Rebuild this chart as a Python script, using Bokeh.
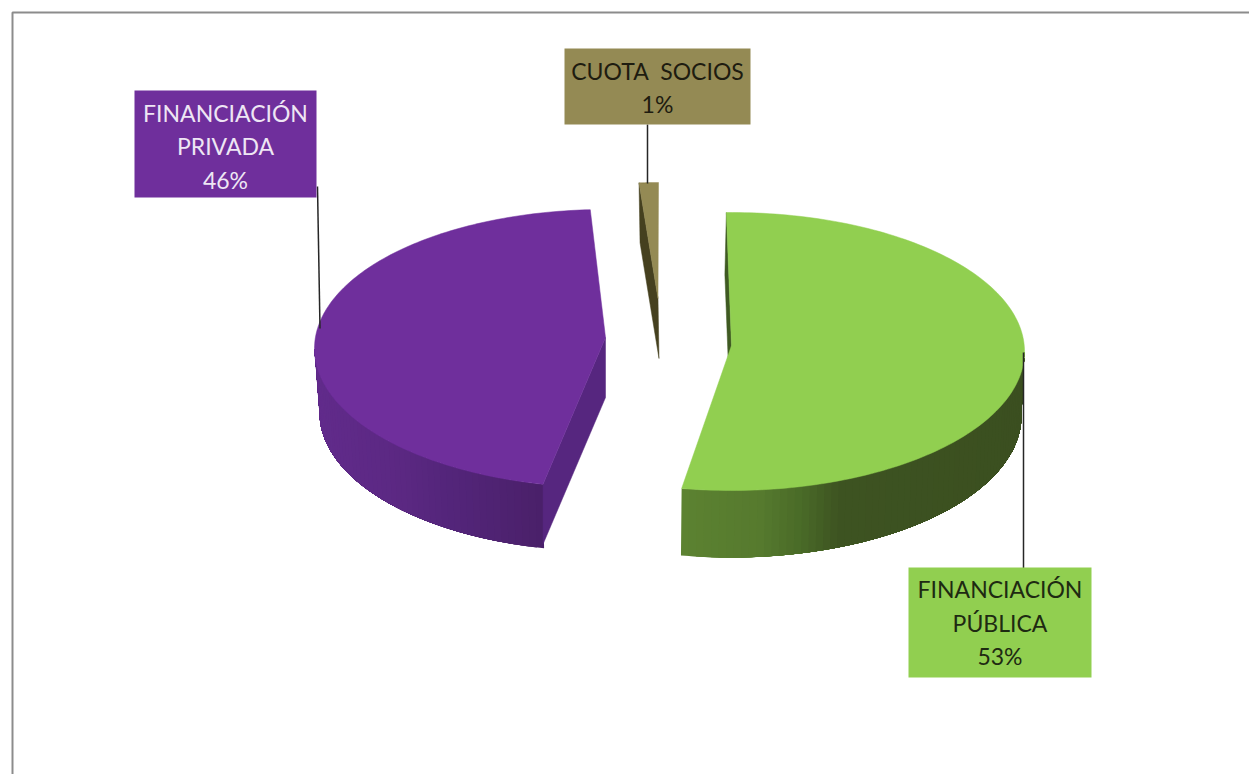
import numpy as np
from bokeh.core.properties import value
from bokeh.embed import file_html
from bokeh.models import ColumnDataSource
from bokeh.plotting import figure
from bokeh.resources import INLINE

# Funding shares, in percent
names = ["FINANCIACIÓN\nPÚBLICA", "FINANCIACIÓN\nPRIVADA", "CUOTA\u2002SOCIOS"]
shares = [53, 46, 1]

top_colors = ["#91cf50", "#6f2f9c", "#948a54"]
inner_colors = ["#3f5a22", "#56267f", "#45401f"]
text_colors = ["#1e2a12", "#eee6f4", "#1e1c10"]

# Exploded slice layout: apex, rim ellipse, base ellipse (page pixels, y down)
layouts = [
    dict(turn=-1.0, trim=0.0, apex=(731, 345), rim=(731, 351, 293, 139), base=(730, 415, 291, 142), drop=(-1.5, 62)),
    dict(turn=1.6, trim=-1.0, apex=(605, 337), rim=(605, 348, 291, 139), base=(605, 412, 286, 139), drop=(0, 60)),
    dict(turn=0.0, trim=0.0, apex=(657.5, 298), rim=(658, 322, 310, 140), base=(658, 382, 310, 140), drop=(1, 60)),
]
# Shading of the outer wall, as (page x, colour) stops
wall_stops = [
    [(682, "#5c8231"), (760, "#567a2e"), (800, "#4a6b28"), (840, "#3d5321"), (1024, "#3b4f20")],
    [(315, "#612b8b"), (400, "#5b2882"), (450, "#53257a"), (543, "#4a2069")],
    [(0, "#45401f"), (1249, "#45401f")],
]
# Label boxes (left, top, right, bottom), text offset and leader lines
boxes = [(908, 567, 1091, 677), (134, 90, 316, 197), (564, 48, 750, 124)]
text_shift = [0, 2, 1]
leaders = [((1023, 1023), (352, 568)), ((317, 319.5), (186, 328)), ((647, 647), (124, 183))]
LINE_STEP = 33.5


def rim_point(ellipse, deg):
    cx, cy, rx, ry = ellipse
    a = np.radians(deg)
    return cx + rx * np.sin(a), cy - ry * np.cos(a)


def blend(stops, x):
    xs = [s[0] for s in stops]
    rgb = [[int(s[1][i:i + 2], 16) for s in stops] for i in (1, 3, 5)]
    return "#%02x%02x%02x" % tuple(int(round(np.interp(x, xs, c))) for c in rgb)


p = figure(width=1249, height=774, x_range=(0, 1249), y_range=(774, 0),
           output_backend="svg", toolbar_location=None, min_border=0)
p.axis.visible = False
p.grid.visible = False
p.outline_line_color = None
p.background_fill_color = "#ffffff"

# Frame around the drawing area
p.line([12, 12, 1249], [774, 12, 12], line_color="#8c8c8c", line_width=2)

edges = np.concatenate([[0], np.cumsum(shares)]) / sum(shares) * 360

for i, share in enumerate(shares):
    lay = layouts[i]
    start, end = edges[i] + lay["turn"], edges[i + 1] + lay["turn"] + lay["trim"]
    dx, dy = lay["drop"]

    # Outer wall: only the part that faces the viewer. Bands overlap and are
    # painted longest first, so that no seams show between them.
    lo, hi = max(start, 90), min(end, 270)
    if hi > lo:
        cuts = np.linspace(lo, hi, int((hi - lo) / 1.5) + 2)
        step = cuts[1] - cuts[0]
        xs, ys, cols = [], [], []
        # The right half of the pie shrinks towards its low angle, the left
        # half towards its high angle.
        for c in (cuts[1:][::-1] if hi <= 180 or lo < 180 else cuts[:-1]):
            arc = np.linspace(lo, c, 60) if lo < 180 else np.linspace(c, hi, 60)
            tx, ty = rim_point(lay["rim"], arc)
            bx, by = rim_point(lay["base"], arc[::-1])
            xs.append(list(tx) + list(bx))
            ys.append(list(ty) + list(by))
            mx, _ = rim_point(lay["rim"], c - step / 2 if lo < 180 else c + step / 2)
            cols.append(blend(wall_stops[i], mx))
        p.patches(xs, ys, fill_color=cols, line_color=None)

    # Inner cut face visible through the gap
    ex, ey = rim_point(lay["rim"], start)
    ax, ay = lay["apex"]
    p.patch([ex, ex + dx, ax + dx, ax], [ey, ey + dy, ay + dy, ay],
            fill_color=inner_colors[i], line_color=inner_colors[i], line_width=0.5)

    # Top surface
    arc = np.linspace(start, end, 160)
    rx_pts, ry_pts = rim_point(lay["rim"], arc)
    p.patch([ax, *rx_pts], [ay, *ry_pts], fill_color=top_colors[i],
            line_color=top_colors[i], line_width=0.5)

for (lx, ly) in leaders:
    p.line(list(lx), list(ly), line_color="#262626", line_width=1.5)

p.quad(left=[b[0] for b in boxes], top=[b[1] for b in boxes],
       right=[b[2] for b in boxes], bottom=[b[3] for b in boxes],
       fill_color=top_colors, line_color=None)

# Labels: category name lines followed by the share
tx, ty, tt, tc = [], [], [], []
for name, share, box, col, shift in zip(names, shares, boxes, text_colors, text_shift):
    lines = name.split("\n") + [f"{share}%"]
    mid_x = (box[0] + box[2]) / 2
    mid_y = (box[1] + box[3]) / 2 + shift
    for k, line in enumerate(lines):
        tx.append(mid_x)
        ty.append(mid_y + (k - (len(lines) - 1) / 2) * LINE_STEP)
        tt.append(line)
        tc.append(col)
p.text("x", "y", text="t", text_color="c", source=ColumnDataSource(dict(x=tx, y=ty, t=tt, c=tc)),
       text_font=value("Lato"), text_font_size="23px", text_align="center", text_baseline="middle")

open("out.html", "w").write(file_html(p, INLINE))
